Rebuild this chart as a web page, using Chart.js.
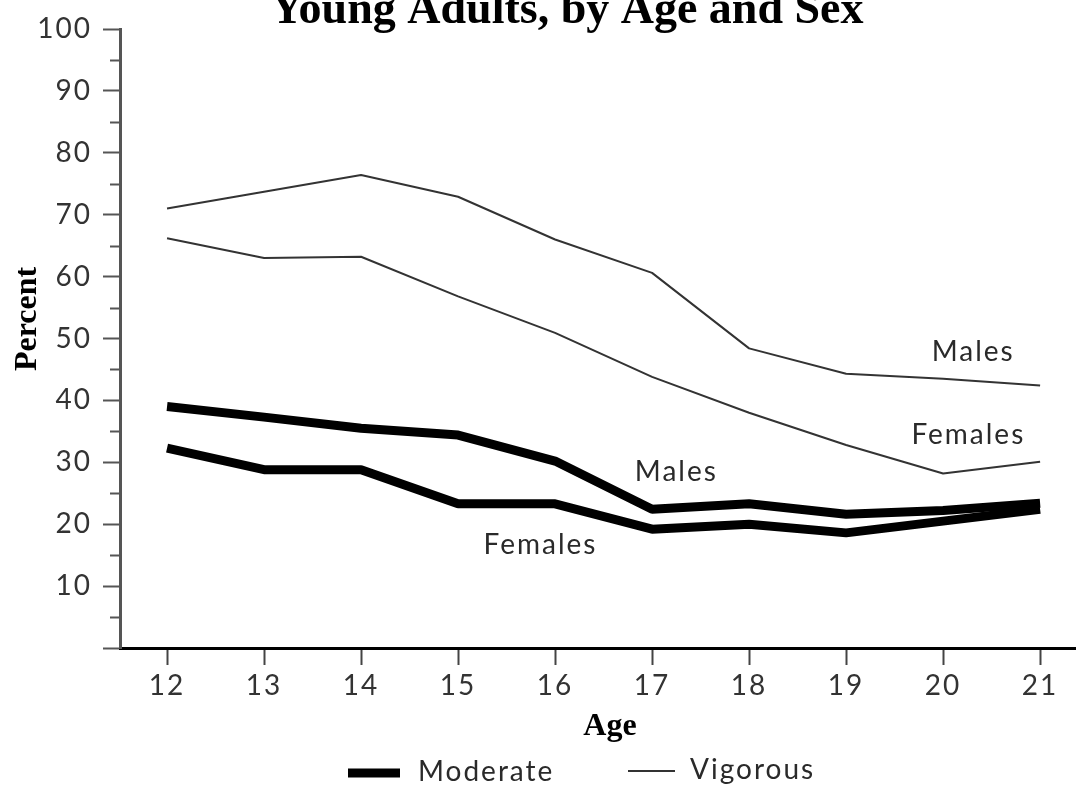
<!DOCTYPE html>
<html>
<head>
<meta charset="utf-8">
<script src="https://cdn.jsdelivr.net/npm/chart.js@4.4.1/dist/chart.umd.min.js"></script>
<style>
  html, body { margin: 0; padding: 0; background: #fff; }
  .container { width: 1076px; height: 789px; position: relative; }
</style>
</head>
<body>
<div class="container"><canvas id="chart1"></canvas></div>
<script>
// Data
const ages = [12, 13, 14, 15, 16, 17, 18, 19, 20, 21];
const vigorousMales   = [71.0, 73.7, 76.4, 72.9, 66.0, 60.6, 48.4, 44.3, 43.5, 42.4];
const vigorousFemales = [66.2, 63.0, 63.2, 56.8, 50.9, 43.8, 38.0, 32.8, 28.2, 30.1];
const moderateMales   = [39.0, 37.3, 35.5, 34.4, 30.2, 22.4, 23.3, 21.6, 22.2, 23.4];
const moderateFemales = [32.3, 28.8, 28.8, 23.3, 23.3, 19.2, 20.0, 18.6, 20.5, 22.4];
const yMajorTicks = [0, 10, 20, 30, 40, 50, 60, 70, 80, 90, 100];
const yMinorTicks = [5, 15, 25, 35, 45, 55, 65, 75, 85, 95];

const chartTitle = 'Young Adults, by Age and Sex';
const xTitle = 'Age';
const yTitle = 'Percent';
const legendLabels = ['Moderate', 'Vigorous'];

// line labels sit in data coordinates
const lineLabels = [
  { text: 'Males',   x: 20.31, y: 47.8 },
  { text: 'Females', x: 20.26, y: 34.4 },
  { text: 'Males',   x: 17.25, y: 28.4 },
  { text: 'Females', x: 15.85, y: 16.6 }
];

const sansFont = 'Lato, "Open Sans", sans-serif';
const serifFont = '"Liberation Serif", "DejaVu Serif", serif';

function toPoints(values) {
  return ages.map((a, i) => ({ x: a, y: values[i] }));
}

const extrasPlugin = {
  id: 'extras',
  beforeDraw(chart) {
    chart.ctx.letterSpacing = '2px';
  },
  afterDraw(chart) {
    const ctx = chart.ctx;
    const xs = chart.scales.x;
    const ys = chart.scales.y;
    ctx.save();

    // minor ticks on the y axis
    ctx.strokeStyle = '#555';
    ctx.lineWidth = 2;
    yMinorTicks.forEach(v => {
      const py = Math.round(ys.getPixelForValue(v)) + 0.5;
      ctx.beginPath();
      ctx.moveTo(110, py);
      ctx.lineTo(120, py);
      ctx.stroke();
    });

    // labels beside the lines
    ctx.letterSpacing = '2px';
    ctx.fillStyle = '#2a2a2a';
    ctx.font = '400 28px ' + sansFont;
    ctx.textAlign = 'center';
    ctx.textBaseline = 'middle';
    lineLabels.forEach(l => {
      ctx.fillText(l.text, xs.getPixelForValue(l.x), ys.getPixelForValue(l.y));
    });

    // legend
    ctx.strokeStyle = '#000';
    ctx.lineWidth = 9;
    ctx.beginPath();
    ctx.moveTo(348, 773);
    ctx.lineTo(400, 773);
    ctx.stroke();
    ctx.strokeStyle = '#333';
    ctx.lineWidth = 2;
    ctx.beginPath();
    ctx.moveTo(628, 771);
    ctx.lineTo(675, 771);
    ctx.stroke();
    ctx.textAlign = 'left';
    ctx.fillText(legendLabels[0], 418, 772);
    ctx.fillText(legendLabels[1], 690, 770);

    // titles
    ctx.letterSpacing = '0px';
    ctx.fillStyle = '#000';
    ctx.font = 'bold 46px ' + serifFont;
    ctx.textAlign = 'center';
    ctx.textBaseline = 'alphabetic';
    ctx.fillText(chartTitle, 567, 23);

    ctx.font = 'bold 32px ' + serifFont;
    ctx.textBaseline = 'middle';
    ctx.fillText(xTitle, 610, 727);

    ctx.translate(28, 319);
    ctx.rotate(-Math.PI / 2);
    ctx.fillText(yTitle, 0, 0);
    ctx.restore();
  }
};

const chart1 = new Chart(document.getElementById('chart1'), {
  type: 'line',
  data: {
    datasets: [
      { label: 'Vigorous Males', data: toPoints(vigorousMales), borderColor: '#333', borderWidth: 2 },
      { label: 'Vigorous Females', data: toPoints(vigorousFemales), borderColor: '#333', borderWidth: 2 },
      { label: 'Moderate Males', data: toPoints(moderateMales), borderColor: '#000', borderWidth: 9 },
      { label: 'Moderate Females', data: toPoints(moderateFemales), borderColor: '#000', borderWidth: 9 }
    ]
  },
  options: {
    responsive: true,
    maintainAspectRatio: false,
    animation: false,
    layout: { padding: { top: 29, left: 0, right: 0, bottom: 0 } },
    elements: {
      point: { radius: 0 },
      line: { tension: 0, fill: false, borderCapStyle: 'butt', borderJoinStyle: 'bevel' }
    },
    plugins: {
      legend: { display: false },
      title: { display: false },
      tooltip: { enabled: false }
    },
    scales: {
      x: {
        type: 'linear',
        min: 11.515,
        max: 21.37,
        afterBuildTicks: scale => { scale.ticks = ages.map(v => ({ value: v })); },
        afterFit: scale => { scale.height = 141; },
        grid: { drawOnChartArea: false, drawTicks: true, tickLength: 17, tickColor: '#444', tickWidth: 2 },
        border: { display: true, color: '#000', width: 3 },
        ticks: {
          padding: 4,
          autoSkip: false,
          maxRotation: 0,
          color: '#333',
          font: { family: sansFont, size: 28, weight: '400' },
          callback: v => String(v)
        }
      },
      y: {
        min: 0,
        max: 100,
        afterBuildTicks: scale => { scale.ticks = yMajorTicks.map(v => ({ value: v })); },
        afterFit: scale => { scale.width = 120; },
        grid: { drawOnChartArea: false, drawTicks: true, tickLength: 17, tickColor: '#555', tickWidth: 2 },
        border: { display: true, color: '#555', width: 3 },
        ticks: {
          padding: 11,
          autoSkip: false,
          color: '#333',
          font: { family: sansFont, size: 28, weight: '400' },
          callback: v => (v === 0 ? '' : String(v))
        }
      }
    }
  },
  plugins: [extrasPlugin]
});
</script>
</body>
</html>
